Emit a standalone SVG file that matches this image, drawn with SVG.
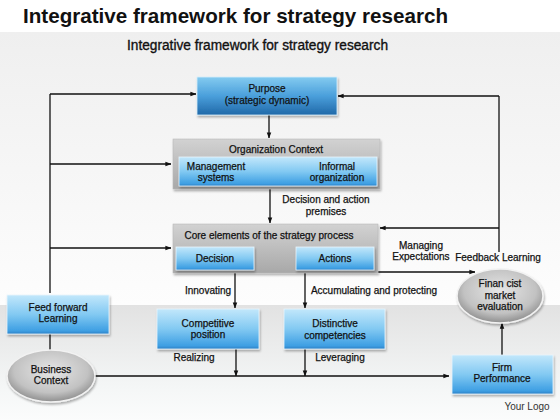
<svg xmlns="http://www.w3.org/2000/svg" width="560" height="420" viewBox="0 0 560 420">
<defs>
<linearGradient id="bgTop" x1="0" y1="0" x2="0" y2="1"><stop offset="0" stop-color="#efefef"/><stop offset="1" stop-color="#fdfdfd"/></linearGradient>
<linearGradient id="bgBot" x1="0" y1="0" x2="0" y2="1"><stop offset="0" stop-color="#e2e2e2"/><stop offset="0.7" stop-color="#f4f6f6"/><stop offset="1" stop-color="#fbfcfc"/></linearGradient>
<linearGradient id="blue" x1="0" y1="0" x2="0" y2="1"><stop offset="0" stop-color="#c2e7fb"/><stop offset="0.5" stop-color="#82c9f2"/><stop offset="0.92" stop-color="#3e9fe3"/><stop offset="1" stop-color="#2c7fc4"/></linearGradient>
<linearGradient id="blueDark" x1="0" y1="0" x2="0" y2="1"><stop offset="0" stop-color="#84cbf0"/><stop offset="0.5" stop-color="#4a9fdb"/><stop offset="1" stop-color="#2068a8"/></linearGradient>
<linearGradient id="gray" x1="0" y1="0" x2="0" y2="1"><stop offset="0" stop-color="#d2d2d2"/><stop offset="1" stop-color="#a8a8a8"/></linearGradient>
<radialGradient id="ell" cx="0.5" cy="0.4" r="0.6"><stop offset="0" stop-color="#e6e6e6"/><stop offset="0.7" stop-color="#c2c2c2"/><stop offset="1" stop-color="#8e8e8e"/></radialGradient>
<filter id="sh" x="-10%" y="-10%" width="125%" height="135%"><feDropShadow dx="1" dy="2" stdDeviation="1.2" flood-color="#000" flood-opacity="0.3"/></filter>
<marker id="ah" viewBox="0 0 8 8" refX="7.5" refY="4" markerWidth="6" markerHeight="6" orient="auto-start-reverse" markerUnits="userSpaceOnUse"><path d="M0,1 L8,4 L0,7 Z" fill="#111"/></marker>
<style>
.t{font-family:"Liberation Sans",Arial,sans-serif;font-size:10px;fill:#111;stroke:#111;stroke-width:0.25;text-anchor:middle}
.lb{font-family:"Liberation Sans",Arial,sans-serif;font-size:10px;fill:#111;stroke:#111;stroke-width:0.25;text-anchor:middle}
.bx{fill:url(#blue);stroke:#e8f6fd;stroke-width:0.8;filter:url(#sh)}
.gb{fill:url(#gray);stroke:#b8b8b8;stroke-width:0.6;filter:url(#sh)}
.el{fill:url(#ell);stroke:#f2f2f2;stroke-width:1.5;filter:url(#sh)}
.c{fill:none;stroke:#111;stroke-width:1.3}
.a{marker-end:url(#ah)}
</style>
</defs>
<rect x="0" y="0" width="560" height="420" fill="#ffffff"/>
<rect x="0" y="32" width="560" height="273" fill="url(#bgTop)"/>
<rect x="0" y="305" width="560" height="115" fill="url(#bgBot)"/>
<text x="23" y="23" font-family="Liberation Sans,Arial,sans-serif" font-weight="bold" font-size="21" fill="#111" textLength="425" lengthAdjust="spacingAndGlyphs">Integrative framework for strategy research</text>
<text x="127" y="50" font-family="Liberation Sans,Arial,sans-serif" font-size="14" fill="#111" stroke="#111" stroke-width="0.35" textLength="261" lengthAdjust="spacingAndGlyphs">Integrative framework for strategy research</text>

<g id="connectors">
<path class="c" d="M50,293 V94"/>
<path class="c a" d="M50,94 H196"/>
<path class="c a" d="M50,164 H171"/>
<path class="c a" d="M50,248 H171"/>
<path class="c" d="M50,334 V350"/>
<path class="c a" d="M269,115 V138"/>
<path class="c a" d="M270,189 V223"/>
<path class="c" d="M499,252 V96"/>
<path class="c a" d="M499,96 H338"/>
<path class="c a" d="M499,228 H380"/>
<path class="c a" d="M258,258 H294" style="marker-start:url(#ah)"/>
<path class="c a" d="M235,270 V308"/>
<path class="c a" d="M305,270 V308"/>
<path class="c a" d="M236,349 V376"/>
<path class="c a" d="M305,349 V376"/>
<path class="c a" d="M94,376 H449"/>
<path class="c a" d="M378,272 H475"/>
<path class="c a" d="M502,355 V323"/>
</g>

<g id="purpose">
<rect x="197" y="77" width="140" height="38" fill="url(#blueDark)" stroke="#d6eefa" stroke-width="0.8" filter="url(#sh)"/>
<text class="t" x="267" y="92">Purpose</text>
<text class="t" x="267" y="104">(strategic dynamic)</text>
</g>

<g id="org-context">
<rect class="gb" x="173" y="139" width="207" height="50"/>
<text class="t" x="276" y="153">Organization Context</text>
<rect class="bx" x="179" y="157" width="198" height="29"/>
<text class="t" x="216" y="170">Management</text>
<text class="t" x="216" y="181">systems</text>
<text class="t" x="337" y="170">Informal</text>
<text class="t" x="337" y="181">organization</text>
</g>

<g id="core">
<rect class="gb" x="173" y="224" width="205" height="49"/>
<text class="t" x="269" y="239">Core elements of the strategy process</text>
</g>
<g id="decision">
<rect class="bx" x="176" y="247" width="78" height="23"/>
<text class="t" x="215" y="262">Decision</text>
</g>
<g id="actions">
<rect class="bx" x="296" y="247" width="78" height="23"/>
<text class="t" x="335" y="262">Actions</text>
</g>

<g id="feed-forward">
<rect class="bx" x="7" y="295" width="102" height="39"/>
<text class="t" x="58" y="311">Feed forward</text>
<text class="t" x="58" y="322">Learning</text>
</g>

<g id="business-context">
<ellipse class="el" cx="51" cy="376" rx="44" ry="26"/>
<text class="t" x="51" y="373">Business</text>
<text class="t" x="51" y="384">Context</text>
</g>

<g id="competitive">
<rect class="bx" x="157" y="309" width="102" height="40"/>
<text class="t" x="208" y="327">Competitive</text>
<text class="t" x="208" y="338">position</text>
</g>

<g id="distinctive">
<rect class="bx" x="284" y="309" width="101" height="40"/>
<text class="t" x="335" y="327">Distinctive</text>
<text class="t" x="335" y="339">competencies</text>
</g>

<g id="financial">
<ellipse class="el" cx="500" cy="296" rx="43" ry="27"/>
<text class="t" x="500" y="287">Finan cist</text>
<text class="t" x="500" y="299">market</text>
<text class="t" x="500" y="310">evaluation</text>
</g>

<g id="firm">
<rect class="bx" x="452" y="355" width="101" height="39"/>
<text class="t" x="502" y="371">Firm</text>
<text class="t" x="502" y="382">Performance</text>
</g>

<g id="labels">
<text class="lb" x="326" y="203">Decision and action</text>
<text class="lb" x="326" y="215">premises</text>
<text class="lb" x="421" y="249">Managing</text>
<text class="lb" x="421" y="260">Expectations</text>
<text class="lb" x="498" y="261">Feedback Learning</text>
<text class="lb" x="208" y="294">Innovating</text>
<text class="lb" x="374" y="294">Accumulating and protecting</text>
<text class="lb" x="194" y="361">Realizing</text>
<text class="lb" x="340" y="361">Leveraging</text>
<text x="527" y="410" font-family="Liberation Sans,Arial,sans-serif" font-size="10" fill="#333" text-anchor="middle">Your Logo</text>
</g>
</svg>
